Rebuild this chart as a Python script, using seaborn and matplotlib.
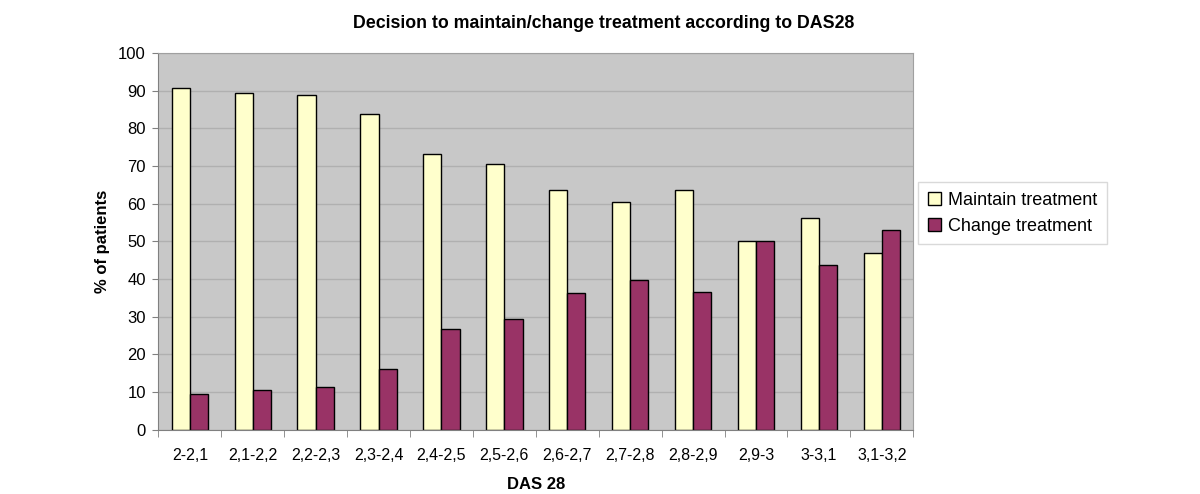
import matplotlib
matplotlib.use("Agg")
import matplotlib.pyplot as plt
import seaborn as sns
import pandas as pd
import numpy as np
from matplotlib.ticker import FixedLocator

categories = ["2-2,1", "2,1-2,2", "2,2-2,3", "2,3-2,4", "2,4-2,5", "2,5-2,6",
              "2,6-2,7", "2,7-2,8", "2,8-2,9", "2,9-3", "3-3,1", "3,1-3,2"]
maintain = [90.6, 89.4, 88.7, 83.8, 73.2, 70.6, 63.7, 60.3, 63.5, 50.0, 56.3, 46.9]
change = [9.4, 10.6, 11.3, 16.2, 26.8, 29.4, 36.3, 39.7, 36.5, 50.0, 43.7, 53.1]
series = ["Maintain treatment", "Change treatment"]
colors = ["#FFFFCC", "#993366"]

df = pd.DataFrame({
    "DAS": categories * 2,
    "pct": maintain + change,
    "Decision": [series[0]] * len(categories) + [series[1]] * len(categories),
})

sns.set_style("white")
plt.rcParams['font.family'] = ['Liberation Sans', 'DejaVu Sans']
plt.rcParams['text.color'] = 'black'
plt.rcParams['axes.labelcolor'] = 'black'
plt.rcParams['xtick.color'] = 'black'
plt.rcParams['ytick.color'] = 'black'

fig = plt.figure(figsize=(12, 4.94), dpi=100)
ax = fig.add_axes([0.132, 0.130, 0.629, 0.763])
ax.set_facecolor("#C8C8C8")

sns.barplot(data=df, x="DAS", y="pct", hue="Decision", palette=colors,
            saturation=1, width=0.58, edgecolor="black", linewidth=1,
            ax=ax, legend=True)

ax.set_ylim(0, 100)
ax.set_xlim(-0.5, len(categories) - 0.5)
ax.set_yticks(np.arange(0, 101, 10))
ax.yaxis.grid(True, color="#B0B0B0", linewidth=1)
ax.set_axisbelow(True)

for s in ["top", "right"]:
    ax.spines[s].set_color("#A0A0A0")
for s in ["left", "bottom"]:
    ax.spines[s].set_color("#808080")

# ticks between categories like the original
ax.tick_params(axis="x", which="major", length=0, labelsize=11.5, pad=13)
ax.xaxis.set_minor_locator(FixedLocator(np.arange(-0.5, len(categories), 1)))
ax.tick_params(axis="x", which="minor", length=5, color="#808080", bottom=True)
ax.tick_params(axis="y", length=4, color="#808080", labelsize=12, left=True, pad=5)

ax.set_xlabel("DAS 28", fontsize=12, fontweight="bold", labelpad=10)
ax.set_ylabel("% of patients", fontsize=12, fontweight="bold", labelpad=6)
fig.suptitle("Decision to maintain/change treatment according to DAS28",
             fontsize=12.8, fontweight="bold", x=0.503, y=0.97)

leg = ax.legend(loc="center left", bbox_to_anchor=(0.995, 0.575), frameon=True,
                fontsize=13, handlelength=0.7, handleheight=0.7,
                handletextpad=0.4, borderpad=0.55, labelspacing=0.5,
                fancybox=False)
leg.get_frame().set_edgecolor("#D0D0D0")
leg.get_frame().set_linewidth(1)

fig.savefig("out.png", dpi=100)
